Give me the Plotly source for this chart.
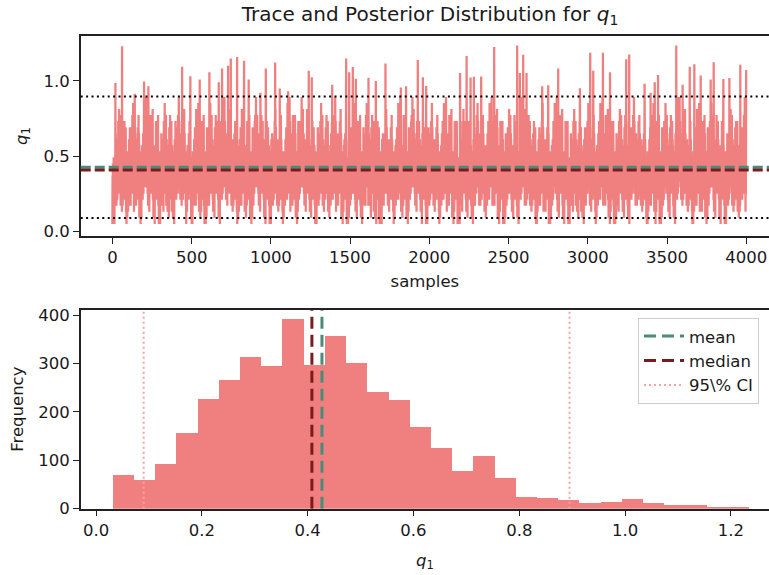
import numpy as np
import plotly.graph_objects as go

# ---------------- data ----------------
N_SAMPLES = 4000
bin_start = 0.031
bin_width = 0.0401
hist_counts = [71, 59, 94, 158, 227, 266, 313, 295, 393, 297,
               358, 302, 241, 225, 170, 126, 79, 110, 65, 25,
               22, 19, 13, 15, 21, 13, 9, 9, 5, 5]
mean_val = 0.427
median_val = 0.408
ci_low = 0.090
ci_high = 0.895

# prominent spikes of the trace (sample index, value)
spike_idx = [19, 61, 141, 200, 227, 440, 492, 551, 612, 671, 692, 730, 747, 787, 831,
             860, 934, 968, 1027, 1056, 1109, 1239, 1258, 1387, 1475, 1494, 1517, 1536,
             1616, 1662, 1723, 1820, 1853, 1927, 1959, 1980, 2194, 2235, 2260, 2281, 2327,
             2409, 2554, 2571, 2592, 2613, 2712, 2750, 2813, 2950, 3015, 3034, 3095, 3140,
             3242, 3261, 3358, 3396, 3422, 3443, 3558, 3598, 3643, 3672, 3712, 3775, 3794,
             3855, 3893, 3962, 3999]
spike_val = [0.985, 1.229, 0.914, 0.996, 0.964, 1.093, 1.030, 1.009, 1.056, 0.990, 1.082,
             1.100, 1.147, 1.158, 1.132, 1.009, 0.920, 1.082, 1.121, 0.948, 0.930, 1.067,
             1.024, 0.974, 1.147, 1.056, 1.091, 1.013, 1.020, 0.998, 1.114, 0.955, 0.964,
             1.138, 1.024, 0.965, 1.052, 1.164, 1.022, 1.027, 1.029, 1.224, 1.234, 1.052,
             1.173, 1.052, 0.964, 0.970, 1.082, 0.950, 1.186, 1.067, 1.186, 1.056, 1.143,
             1.175, 0.981, 0.920, 0.990, 1.039, 1.234, 0.974, 1.093, 1.110, 1.035, 1.009,
             1.123, 1.011, 1.018, 1.106, 1.071]

# ---------------- derived ----------------
counts = np.array(hist_counts)
centers = bin_start + bin_width * (np.arange(len(counts)) + 0.5)

# trace: bulk samples are the histogram's own samples (bins below the upper CI),
# arranged in a deterministic interleaved order; spikes placed where they appear
bulk_mask = centers < ci_high
pool = np.sort(np.repeat(centers[bulk_mask], counts[bulk_mask]))
trace = np.zeros(N_SAMPLES)
spike_set = set(spike_idx)
free = np.array([i for i in range(N_SAMPLES) if i not in spike_set])
g1 = (np.sqrt(5) - 1) / 2
g2 = np.sqrt(2) - 1
keys = np.mod(free * g1, 1.0) + 0.45 * np.mod((free // 17) * g2, 1.0)
ranks = np.argsort(np.argsort(keys))
trace[free] = pool[(ranks * len(pool) / len(free)).astype(int)]
trace[np.array(spike_idx)] = spike_val
samples_x = np.arange(N_SAMPLES)

# ---------------- styling ----------------
FONT = "DejaVu Sans"
TXT = "#1a1a1a"
TRACE_C = "#F08080"
MEAN_C = "#4A8A78"
MED_C = "#7A1C1C"
CI_C = "#F9A3A3"
FS = 16.5

W, H = 769, 575
x_dom = [80.7 / W, 1.0]
top_dom = [(H - 237.7) / H, (H - 33) / H]
bot_dom = [(H - 517.3) / H, (H - 313.3) / H]

top_yr = [-0.0286, 1.2956]
top_xr = [-200, 4143]
bot_xr = [-0.029, 1.272]
bot_yr = [0, 411]

fig = go.Figure()

# --- top: trace ---
fig.add_trace(go.Scatter(x=samples_x, y=trace, mode="lines",
                         line=dict(color=TRACE_C, width=2.3, simplify=False),
                         xaxis="x", yaxis="y", showlegend=False, hoverinfo="skip"))

for val, col, dash, w in [(mean_val, MEAN_C, "10px,4px", 3),
                          (median_val, MED_C, "10px,4px", 3),
                          (ci_low, "black", "2px,3.4px", 2),
                          (ci_high, "black", "2px,3.4px", 2)]:
    fig.add_shape(type="line", xref="x domain", yref="y", x0=0, x1=1, y0=val, y1=val,
                  line=dict(color=col, width=w, dash=dash), layer="above")

# --- bottom: histogram ---
fig.add_trace(go.Bar(x=centers, y=counts, width=bin_width,
                     marker=dict(color=TRACE_C, line=dict(width=0)),
                     xaxis="x2", yaxis="y2", showlegend=False, hoverinfo="skip"))

fig.add_trace(go.Scatter(x=[mean_val, mean_val], y=bot_yr, mode="lines", name="mean",
                         line=dict(color=MEAN_C, width=3, dash="12px,6px"),
                         xaxis="x2", yaxis="y2"))
fig.add_trace(go.Scatter(x=[median_val, median_val], y=bot_yr, mode="lines", name="median",
                         line=dict(color=MED_C, width=3, dash="12px,6px"),
                         xaxis="x2", yaxis="y2"))
fig.add_trace(go.Scatter(x=[ci_low, ci_low], y=bot_yr, mode="lines", name="95\\% CI",
                         line=dict(color=CI_C, width=2, dash="2px,3px"),
                         xaxis="x2", yaxis="y2"))
fig.add_trace(go.Scatter(x=[ci_high, ci_high], y=bot_yr, mode="lines", name="95\\% CI",
                         line=dict(color=CI_C, width=2, dash="2px,3px"),
                         xaxis="x2", yaxis="y2", showlegend=False))

axis_common = dict(showgrid=False, zeroline=False, showline=True, linecolor="#222",
                   linewidth=1.5, ticks="outside", ticklen=6, tickwidth=1.3,
                   tickcolor="#222", tickfont=dict(family=FONT, size=FS, color=TXT))

fig.update_layout(
    width=W, height=H,
    margin=dict(l=0, r=0, t=0, b=0),
    paper_bgcolor="white", plot_bgcolor="white",
    font=dict(family=FONT, size=FS, color=TXT),
    bargap=0,
    title=dict(text="Trace and Posterior Distribution for <i>q</i><sub>1</sub>",
               x=430 / W, xanchor="center", y=(H - 14) / H, yanchor="middle",
               font=dict(family=FONT, size=20, color=TXT)),
    xaxis=dict(domain=x_dom, range=top_xr, anchor="y", mirror=True,
               tickvals=[0, 500, 1000, 1500, 2000, 2500, 3000, 3500, 4000],
               title=dict(text="samples", standoff=9, font=dict(size=FS)), **axis_common),
    yaxis=dict(domain=top_dom, range=top_yr, anchor="x",
               tickvals=[0.0, 0.5, 1.0], tickformat=".1f",
               title=dict(text="<i>q</i><sub>1</sub>", standoff=12, font=dict(size=FS)),
               **axis_common),
    xaxis2=dict(domain=x_dom, range=bot_xr, anchor="y2", mirror=True,
                tickvals=[0.0, 0.2, 0.4, 0.6, 0.8, 1.0, 1.2], tickformat=".1f",
                title=dict(text="<i>q</i><sub>1</sub>", standoff=15, font=dict(size=FS)),
                **axis_common),
    yaxis2=dict(domain=bot_dom, range=bot_yr, anchor="x2",
                tickvals=[0, 100, 200, 300, 400],
                title=dict(text="Frequency", standoff=10, font=dict(size=FS)),
                **axis_common),
    legend=dict(x=638 / W, y=(H - 321.7) / H, xanchor="left", yanchor="top",
                bgcolor="rgba(255,255,255,0.8)", bordercolor="#ccc", borderwidth=1,
                font=dict(family=FONT, size=FS, color=TXT),
                itemwidth=40, tracegroupgap=0),
)

fig.write_html("out.html")
